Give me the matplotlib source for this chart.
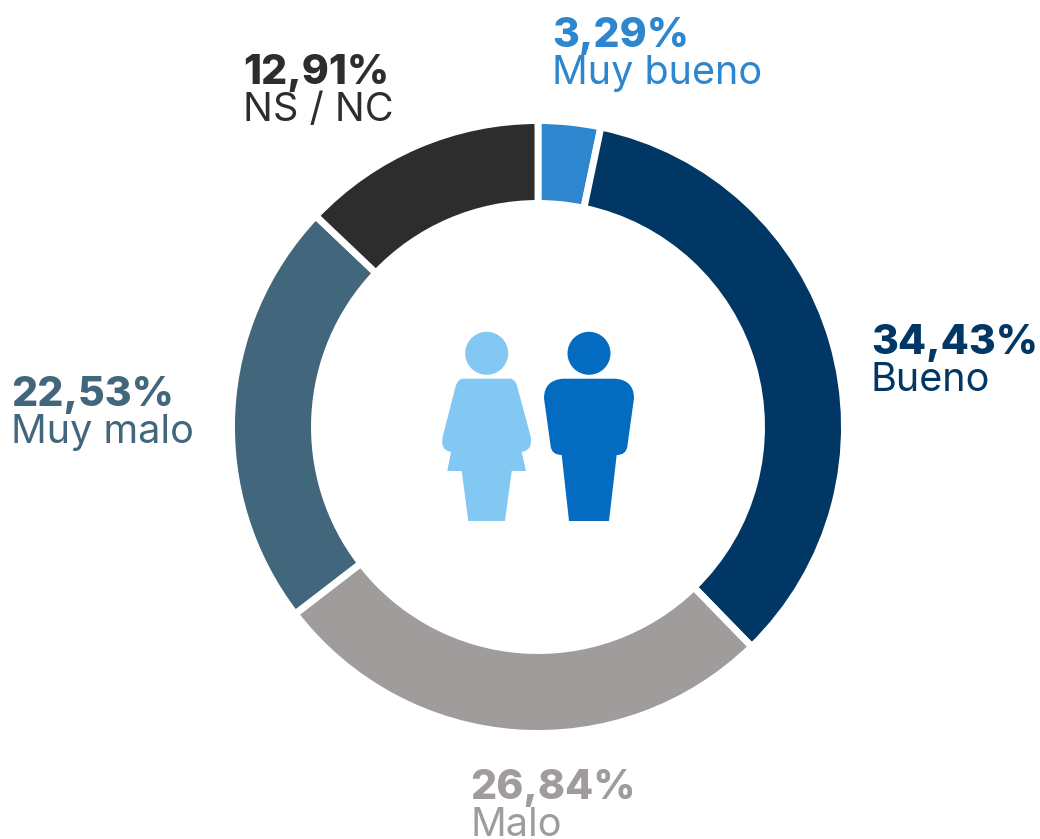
import matplotlib
matplotlib.use('Agg')
import matplotlib.pyplot as plt
from matplotlib.patches import Circle, PathPatch
from matplotlib.path import Path

plt.rcParams['font.family'] = ['Inter', 'DejaVu Sans']

labels = ['Muy bueno', 'Bueno', 'Malo', 'Muy malo', 'NS / NC']
values = [3.29, 34.43, 26.84, 22.53, 12.91]
value_text = ['3,29%', '34,43%', '26,84%', '22,53%', '12,91%']
colors = ['#2e86cf', '#003764', '#a09c9b', '#42667c', '#2d2d2d']

W, H = 1040, 839
fig = plt.figure(figsize=(W/100, H/100), dpi=100)

#%% donut, in its own square axes so that y goes up as usual
cx, cy, R = 538, 427, 306.5
ax_pie = fig.add_axes([(cx-R)/W, 1-(cy+R)/H, 2*R/W, 2*R/H])
ax_pie.pie(values, colors=colors, startangle=90, counterclock=False, radius=1,
           wedgeprops=dict(width=83/R, edgecolor='white', linewidth=5))
ax_pie.set_xlim(-1, 1)
ax_pie.set_ylim(-1, 1)

#%% overlay in pixel coordinates, y going down
ax = fig.add_axes([0, 0, 1, 1])
ax.set_xlim(0, W)
ax.set_ylim(H, 0)
ax.axis('off')
ax.patch.set_alpha(0)

# left end and baseline of each value text
pos = [(552, 47), (871, 354), (470, 799), (11, 406), (243, 84)]
sub_off = 37
for i in range(len(labels)):
    x, y = pos[i]
    ax.text(x, y, value_text[i], color=colors[i], fontsize=29.5, fontweight=800, ha='left', va='baseline')
    ax.text(x, y + sub_off, labels[i], color=colors[i], fontsize=28.5, fontweight='normal', ha='left', va='baseline')

def shape(pts):
    # each entry is a point; four numbers are control + end of a curve
    verts, codes = [], []
    for n, p in enumerate(pts):
        if n == 0:
            verts.append(p); codes.append(Path.MOVETO)
        elif len(p) == 2:
            verts.append(p); codes.append(Path.LINETO)
        else:
            verts += [p[:2], p[2:]]; codes += [Path.CURVE3, Path.CURVE3]
    verts.append(pts[0]); codes.append(Path.CLOSEPOLY)
    return Path(verts, codes)

# woman
light = '#83c8f2'
ax.add_patch(Circle((486.7, 353.3), 21.5, color=light, lw=0))
ax.add_patch(PathPatch(shape([(462, 378.7), (511, 378.7), (515.5, 380, 517.3, 386.7), (530.7, 436.7),
                              (533, 450, 521.7, 452), (526, 471), (511.7, 471), (505, 521), (468.3, 521),
                              (461.7, 471), (447.3, 471), (451, 452), (440, 450, 442.7, 436.7),
                              (455.5, 386.7), (457.5, 380, 462, 378.7)]), color=light, lw=0))
# man
dark = '#046cc0'
ax.add_patch(Circle((589, 353.3), 21.5, color=dark, lw=0))
ax.add_patch(PathPatch(shape([(563.3, 378.7), (615, 378.7), (634, 380, 634, 398.3), (627.3, 446.7),
                              (626, 455, 616.7, 455), (609, 521), (569, 521), (561.7, 455),
                              (552, 455, 550.7, 446.7), (544, 398.3), (544, 380, 563.3, 378.7)]),
                       color=dark, lw=0))

fig.savefig('out.png', dpi=100)
